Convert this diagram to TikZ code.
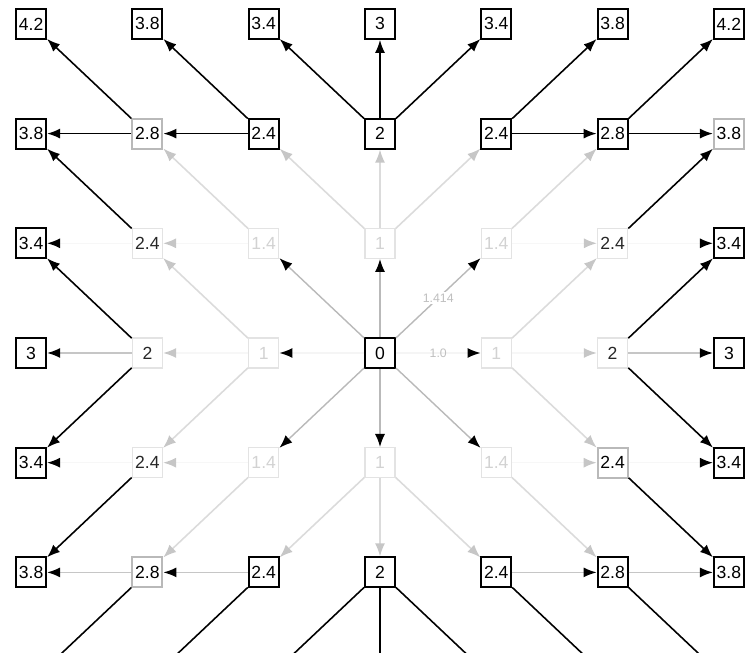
\documentclass[tikz,border=0pt]{standalone}
\usepackage{fontspec}
\setmainfont{Liberation Sans}
\usetikzlibrary{arrows.meta}
\tikzset{cell/.style={draw,minimum size=6mm,inner sep=1pt,font=\fontsize{10}{12}\selectfont,line width=1.1pt},
  done/.style={cell,draw=black,text=black},
  mid/.style={cell,draw=gray!55,text=black},
  seen/.style={cell,draw=gray!22,text=black!85,line width=.8pt},
  open/.style={cell,draw=gray!22,text=gray!35,line width=.8pt},
  hop0/.style={draw=gray!55,line width=.8pt,-{Latex[length=2.6mm,width=2mm,color=black]}},
  hop0f/.style={hop0,draw=gray!8},
  hop1/.style={draw=gray!28,line width=.9pt,-{Latex[length=2.6mm,width=2mm,color=gray!45]}},
  hop1f/.style={hop1,draw=gray!6},
  hop2/.style={draw=black,line width=.9pt,-{Latex[length=2.6mm,width=2mm,color=black]}},
  hop2g/.style={hop2,draw=gray!45},
  hop2f/.style={hop2,draw=gray!6},
  wt/.style={fill=white,inner sep=1pt,text=gray!50,font=\scriptsize}}

\begin{document}
\begin{tikzpicture}
\useasboundingbox (-7.6,-6.0) rectangle (7.48,7.06);
\clip (-7.6,-6.0) rectangle (7.48,7.06);
% grid of cells, n<col><row>, row 0 on top
\foreach \c/\r/\v/\s in {0/0/4.2/done,1/0/3.8/done,2/0/3.4/done,3/0/3/done,4/0/3.4/done,5/0/3.8/done,6/0/4.2/done,
  0/1/3.8/done,1/1/2.8/mid,2/1/2.4/done,3/1/2/done,4/1/2.4/done,5/1/2.8/done,6/1/3.8/mid,
  0/2/3.4/done,1/2/2.4/seen,2/2/1.4/open,3/2/1/open,4/2/1.4/open,5/2/2.4/seen,6/2/3.4/done,
  0/3/3/done,1/3/2/seen,2/3/1/open,3/3/0/done,4/3/1/open,5/3/2/seen,6/3/3/done,
  0/4/3.4/done,1/4/2.4/seen,2/4/1.4/open,3/4/1/open,4/4/1.4/open,5/4/2.4/mid,6/4/3.4/done,
  0/5/3.8/done,1/5/2.8/mid,2/5/2.4/done,3/5/2/done,4/5/2.4/done,5/5/2.8/done,6/5/3.8/done}
  \node[\s] (n\c\r) at ({(\c-3)*2.326},{(3-\r)*2.194}) {\v};
% free ends below the picture
\foreach \c in {0,...,6}
  \coordinate (n\c6) at ({(\c-3)*2.326},{-3*2.194});

% first step from the start cell
\foreach \b in {n32,n22,n24,n34,n44} \draw[hop0] (n33)--(\b);
\draw[hop0] (n33)--node[wt]{1.414}(n42);
\draw[hop0f] (n33)--(n23);
\draw[hop0f] (n33)--node[wt,fill=none]{1.0}(n43);

% second step
\foreach \a/\b in {n32/n21,n32/n31,n32/n41,n22/n11,n42/n51,n23/n12,n23/n14,n43/n52,n43/n54,n24/n15,n44/n55,n34/n25,n34/n35,n34/n45}
  \draw[hop1] (\a)--(\b);
\foreach \a/\b in {n22/n12,n42/n52,n23/n13,n43/n53,n24/n14,n44/n54}
  \draw[hop1f] (\a)--(\b);

% third step
\foreach \a/\b in {n11/n00,n11/n01,n21/n10,n21/n11,n31/n20,n31/n30,n31/n40,n41/n50,n41/n51,n51/n60,n51/n61,
  n12/n01,n52/n61,n13/n02,n13/n04,n53/n62,n53/n64,n14/n05,n54/n65}
  \draw[hop2] (\a)--(\b);
\foreach \a/\b in {n13/n03,n53/n63,n15/n05,n25/n15,n45/n55,n55/n65}
  \draw[hop2g] (\a)--(\b);
\foreach \a/\b in {n12/n02,n52/n62,n14/n04,n54/n64}
  \draw[hop2f] (\a)--(\b);
\foreach \a/\b in {n15/n06,n25/n16,n35/n26,n35/n36,n35/n46,n45/n56,n55/n66}
  \draw[black,line width=.9pt] (\a)--(\b);
\end{tikzpicture}
\end{document}
